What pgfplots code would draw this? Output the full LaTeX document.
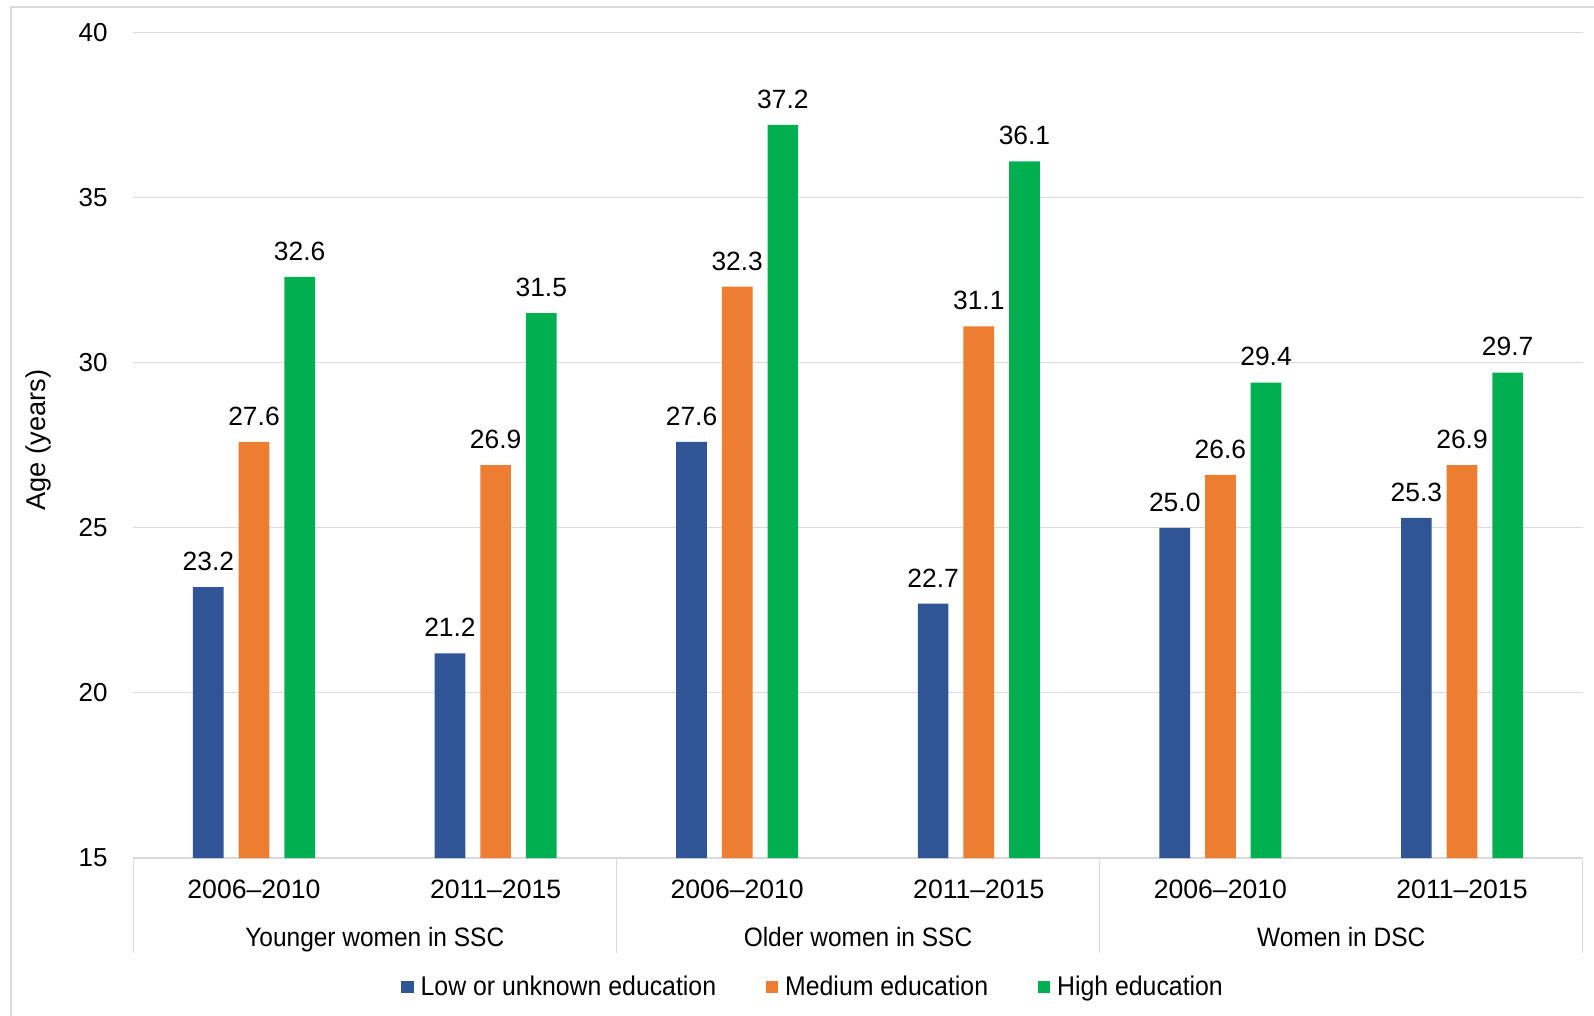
\documentclass[border=0pt]{standalone}
\usepackage{pgfplots}
\pgfplotsset{compat=1.18}
\usepackage{fontspec}
\setmainfont{Liberation Sans}
\newfontfamily\catfont[FakeStretch=0.92]{Liberation Sans}
\definecolor{cLow}{HTML}{2F5597}
\definecolor{cMed}{HTML}{ED7D31}
\definecolor{cHigh}{HTML}{00B050}
\definecolor{gridc}{HTML}{D9D9D9}
\begin{document}
\begin{tikzpicture}
\path[use as bounding box] (-66.6pt,-79pt) rectangle (730.4pt,429pt);
% outer frame (left and top edges visible)
\draw[gridc, line width=0.6pt] (-61.1pt,-79pt) -- (-61.1pt,425.5pt) -- (730.4pt,425.5pt);
\begin{axis}[
  scale only axis,
  width=724.8pt, height=412.75pt,
  xmin=-0.5, xmax=5.5,
  ymin=15, ymax=40,
  ytick={15,20,25,30,35,40},
  xtick={0,1,2,3,4,5},
  xticklabels={2006–2010,2011–2015,2006–2010,2011–2015,2006–2010,2011–2015},
  ymajorgrids,
  grid style={draw=gridc, line width=0.6pt},
  axis line style={draw=none},
  major tick length=0pt,
  tick style={draw=none},
  /pgf/number format/assume math mode=true,
  yticklabel style={font=\fontsize{13}{15}\selectfont, anchor=east, inner sep=0pt, xshift=-12.6pt},
  xticklabel style={font=\fontsize{13.3}{15}\selectfont, anchor=center, inner sep=0pt, yshift=-15.75pt},
  ybar, bar width=0.127,
  nodes near coords,
  nodes near coords style={font=\fontsize{13.2}{15}\selectfont, anchor=south, inner sep=0pt, yshift=8pt,
    /pgf/number format/.cd, fixed, fixed zerofill, precision=1, assume math mode=true},
  legend columns=3,
  legend style={at={(0.4683,-0.1562)}, anchor=center, draw=none, fill=none,
    font=\catfont\fontsize{13.5}{15}\selectfont, inner sep=0pt,
    nodes={inner sep=0pt},
    /tikz/every odd column/.append style={column sep=3.4pt},
    /tikz/every even column/.append style={column sep=24.8pt}},
  legend image code/.code={\fill[#1] (0pt,-3.15pt) rectangle (6.3pt,3.15pt);},
]
\addplot[draw=none, fill=cLow, bar shift=-0.189] coordinates {(0,23.2) (1,21.2) (2,27.6) (3,22.7) (4,25.0) (5,25.3)};
\addplot[draw=none, fill=cMed, bar shift=0] coordinates {(0,27.6) (1,26.9) (2,32.3) (3,31.1) (4,26.6) (5,26.9)};
\addplot[draw=none, fill=cHigh, bar shift=0.189] coordinates {(0,32.6) (1,31.5) (2,37.2) (3,36.1) (4,29.4) (5,29.7)};
\legend{Low or unknown education, Medium education, High education}
\end{axis}
% group separators and group labels
\foreach \x in {0,241.6,483.2,724.8} {\draw[gridc, line width=0.6pt] (\x pt,0pt) -- (\x pt,-47.3pt);}
\node[font=\catfont\fontsize{13.3}{15}\selectfont, inner sep=0pt, anchor=base] at (120.8pt,-44.2pt) {Younger women in SSC};
\node[font=\catfont\fontsize{13.3}{15}\selectfont, inner sep=0pt, anchor=base] at (362.4pt,-44.2pt) {Older women in SSC};
\node[font=\catfont\fontsize{13.3}{15}\selectfont, inner sep=0pt, anchor=base] at (604pt,-44.2pt) {Women in DSC};
\node[rotate=90, font=\fontsize{13.6}{15}\selectfont, inner sep=0pt] at (-47.35pt,209pt) {Age (years)};
\end{tikzpicture}
\end{document}
